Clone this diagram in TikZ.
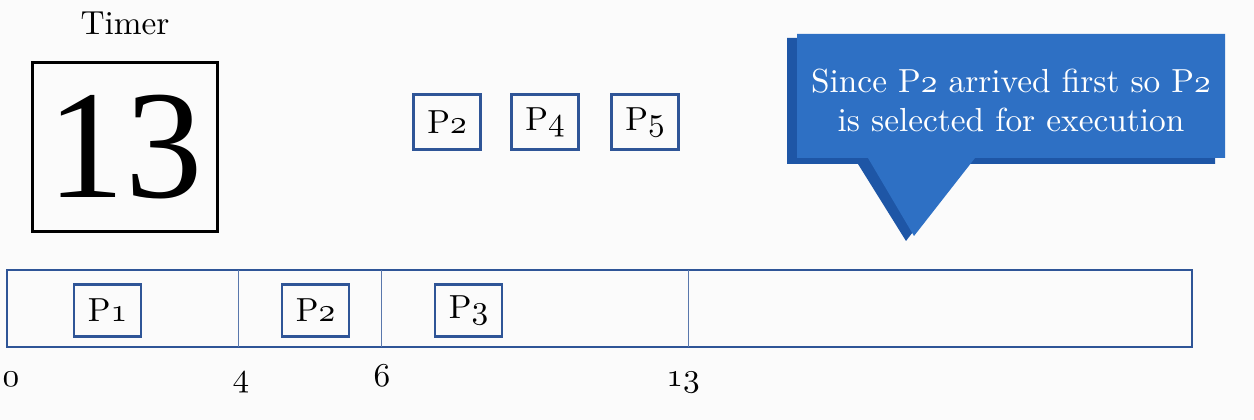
\documentclass[tikz,border=0pt]{standalone}
\usepackage{graphicx}
\usepackage{fontspec}
\newfontfamily\timesf{Liberation Serif}
\newcommand\osn[1]{{\usefont{OML}{cmm}{m}{it}#1}}
\newcommand\stx[1]{\scalebox{2.5}{\fontsize{10}{12}\selectfont #1}}
\definecolor{boxblue}{RGB}{47,85,151}
\definecolor{callblue}{RGB}{46,112,196}
\definecolor{callshade}{RGB}{30,86,166}
\definecolor{bg}{RGB}{251,251,251}
\tikzset{
  pbox/.style={draw=boxblue,line width=1.9pt,inner sep=0pt,minimum width=50pt,minimum height=41pt},
  gbox/.style={pbox,minimum height=39pt},
  tick/.style={anchor=base,inner sep=0pt},
  divider/.style={draw=boxblue!80,line width=0.6pt},
}
\begin{document}
\begin{tikzpicture}[x=0.75pt,y=-0.75pt]
\useasboundingbox (0,0) rectangle (1254,420);
\fill[bg] (0,0) rectangle (1254,420);

% timer
\node[anchor=base,inner sep=0pt] (tlabel) at (125,35) {\stx{Timer}};
\node[draw=black,line width=2.2pt,minimum width=139pt,minimum height=127pt,inner sep=0pt,
      font=\timesf\fontsize{116}{116}\selectfont] (timer) at (125,147) {13};

% ready queue
\node[pbox] (r2) at (447,122) {\stx{P\osn{2}}};
\node[pbox] (r4) at (545,122) {\stx{P\osn{4}}};
\node[pbox] (r5) at (645,122) {\stx{P\osn{5}}};

% gantt bar
\node[draw=boxblue,line width=2pt,minimum width=888.75pt,minimum height=57.75pt,inner sep=0pt] (bar) at (599.5,308.5) {};
\coordinate (d1t) at (238,270); \coordinate (d1b) at (238,347);
\coordinate (d2t) at (381,270); \coordinate (d2b) at (381,347);
\coordinate (d3t) at (688,270); \coordinate (d3b) at (688,347);
\draw[divider] (d1t) -- (d1b);
\draw[divider] (d2t) -- (d2b);
\draw[divider] (d3t) -- (d3b);

\node[gbox] (g1) at (107.5,310.5) {\stx{P\osn{1}}};
\node[gbox] (g2) at (315.5,310.5) {\stx{P\osn{2}}};
\node[gbox] (g3) at (468.5,310.5) {\stx{P\osn{3}}};

% time ticks
\node[tick] (t0) at (11,387) {\stx{\osn{0}}};
\node[tick] (t4) at (241,387) {\stx{\osn{4}}};
\node[tick] (t6) at (382,387) {\stx{\osn{6}}};
\node[tick] (t13) at (683,387) {\stx{\osn{13}}};

% callout
\fill[callshade] (787,38) -- (1215,38) -- (1215,164) -- (965,164) -- (906,241) -- (858,164) -- (787,164) -- cycle;
\fill[callblue] (797,34) -- (1225,34) -- (1225,158) -- (975,158) -- (914,236) -- (868,158) -- (797,158) -- cycle;
\node[text=white,inner sep=0pt] (msg) at (1011,104)
  {\scalebox{2.5}{\fontsize{10}{12}\selectfont\begin{tabular}{@{}c@{}}Since P\osn{2} arrived first so P\osn{2}\\[-0.5pt]is selected for execution\end{tabular}}};
\end{tikzpicture}
\end{document}
